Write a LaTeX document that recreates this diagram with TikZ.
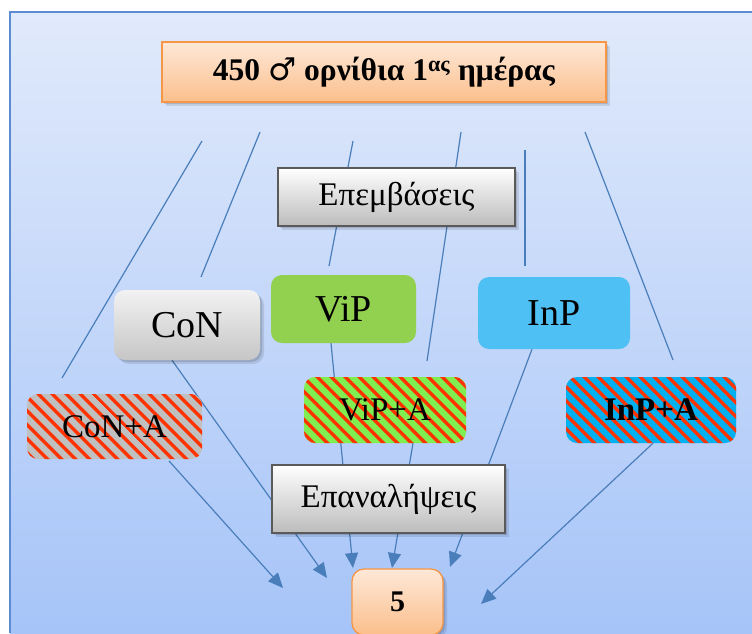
\documentclass[tikz,border=0pt]{standalone}
\usepackage{fontspec}
\setmainfont{Liberation Serif}
\newfontfamily\signfont{DejaVu Sans}
\usetikzlibrary{arrows.meta,patterns.meta}
\pgfdeclarelayer{back}
\pgfdeclarelayer{wires}
\pgfsetlayers{back,wires,main}

\definecolor{pageblueTop}{HTML}{E1EAFB}
\definecolor{pageblueBot}{HTML}{A6C4F8}
\definecolor{framecol}{HTML}{5B8BD0}
\definecolor{wire}{HTML}{4A7EBB}
\definecolor{orangeTop}{HTML}{FEE8D8}
\definecolor{orangeBot}{HTML}{FBBF8C}
\definecolor{orangeEdge}{HTML}{F79646}
\definecolor{greyBot}{HTML}{BCBCBC}
\definecolor{greyEdge}{HTML}{5A5A5A}
\definecolor{softTop}{HTML}{F2F2F2}
\definecolor{softBot}{HTML}{C6C6C6}
\definecolor{vipgreen}{HTML}{92D050}
\definecolor{inpblue}{HTML}{4FC0F4}
\definecolor{hatchgrey}{HTML}{C0C0C0}
\definecolor{hatchgreen}{HTML}{80EE50}
\definecolor{hatchblue}{HTML}{00B0F0}
\definecolor{hatchred}{HTML}{FF3300}

\tikzset{
  box/.style={inner sep=0pt, align=center, font=\fontsize{33}{38}\selectfont},
  % two offset translucent copies give a soft drop shadow
  softshadow/.style={
      preaction={draw=none, fill=black, fill opacity=0.10,
        transform canvas={shift={(4pt,-4pt)}}},
      preaction={draw=none, fill=black, fill opacity=0.12,
        transform canvas={shift={(2pt,-2pt)}}}},
  orangebox/.style={box, softshadow, top color=orangeTop, bottom color=orangeBot,
      draw=orangeEdge, line width=1.3pt},
  labelbox/.style={box, softshadow, top color=white, bottom color=greyBot,
      draw=greyEdge, line width=2.8pt, font=\fontsize{33}{38}\selectfont},
  pill/.style={box, rounded corners=11pt},
  bigtext/.style={font=\fontsize{38}{42}\selectfont},
  striped/.style={pill, preaction={fill=#1},
      pattern={Lines[angle=-45, distance=10.5pt, line width=3.8pt]},
      pattern color=hatchred},
  wireline/.style={draw=wire, line width=1.2pt},
  flow/.style={wireline, -{Triangle[length=15pt, width=13pt]}},
}

\begin{document}
\begin{tikzpicture}[x=1pt, y=-1pt]
\useasboundingbox (0,0) rectangle (752,633);

% page background with its frame
\begin{pgfonlayer}{back}
  \fill[white] (0,0) rectangle (752,633);
  \shade[top color=pageblueTop, bottom color=pageblueBot] (10,12) rectangle (752,633);
  \draw[framecol, line width=1.2pt] (10,633) -- (10,12) -- (752,12);
\end{pgfonlayer}

% boxes
\node[orangebox, minimum width=444pt, minimum height=60pt,
      font=\bfseries\fontsize{31.5}{36}\selectfont] (flock) at (384,72)
  {450 {\signfont\mdseries ♂} ορνίθια 1\textsuperscript{ας} ημέρας};
\node[labelbox, minimum width=237pt, minimum height=58pt] (treat) at (396.5,197) {Επεμβάσεις};

\node[pill, bigtext, softshadow, top color=softTop, bottom color=softBot,
      minimum width=146pt, minimum height=70pt] (con) at (187,325) {CoN};
\node[pill, bigtext, fill=vipgreen, minimum width=145pt, minimum height=68pt] (vip) at (343.5,309) {ViP};
\node[pill, bigtext, fill=inpblue, minimum width=152pt, minimum height=72pt] (inp) at (554,313) {InP};

\node[striped=hatchgrey, minimum width=175pt, minimum height=65pt] (conA) at (114.5,426.5) {CoN+A};
\node[striped=hatchgreen, minimum width=162pt, minimum height=66pt] (vipA) at (385,410) {ViP+A};
\node[striped=hatchblue, minimum width=170pt, minimum height=66pt,
      font=\bfseries\fontsize{33}{38}\selectfont] (inpA) at (651,410) {InP+A};

\node[labelbox, minimum width=233pt, minimum height=68pt] (reps) at (388.5,499) {Επαναλήψεις};

% the count box runs past the lower edge of the page
\begin{scope}
  \clip (0,0) rectangle (752,633);
  \node[orangebox, rounded corners=12pt, minimum width=91pt, minimum height=66pt,
        font=\bfseries\fontsize{30}{34}\selectfont] (five) at (397.5,602) {5};
\end{scope}

% free ends of the connectors
\coordinate (s1) at (202,141);  \coordinate (e1) at (62,378);
\coordinate (s2) at (260,132);  \coordinate (e2) at (201,277);
\coordinate (s3) at (353,141);  \coordinate (e3) at (329,266);
\coordinate (s4) at (461,132);  \coordinate (e4) at (427,361);
\coordinate (s5) at (525,150);  \coordinate (e5) at (525,266);
\coordinate (s6) at (585,132);  \coordinate (e6) at (673,360);
\coordinate (tA) at (283,588);
\coordinate (tB) at (327,578);
\coordinate (tC) at (353,568);
\coordinate (tD) at (392,568);
\coordinate (tE) at (450,567);
\coordinate (tF) at (481,604);

\begin{pgfonlayer}{wires}
  % split of the flock into the six groups
  \foreach \i in {1,...,6} \draw[wireline] (s\i) -- (e\i);
  % groups into the five repetitions
  \draw[flow] ([xshift=54.5pt]conA.south) -- (tA);
  \draw[flow] ([xshift=-15pt]con.south) -- (tB);
  \draw[flow] ([xshift=-12.5pt]vip.south) -- (tC);
  \draw[flow] ([xshift=28pt]vipA.south) -- (tD);
  \draw[flow] ([xshift=-22pt]inp.south) -- (tE);
  \draw[flow] ([xshift=2pt]inpA.south) -- (tF);
\end{pgfonlayer}
\end{tikzpicture}
\end{document}
